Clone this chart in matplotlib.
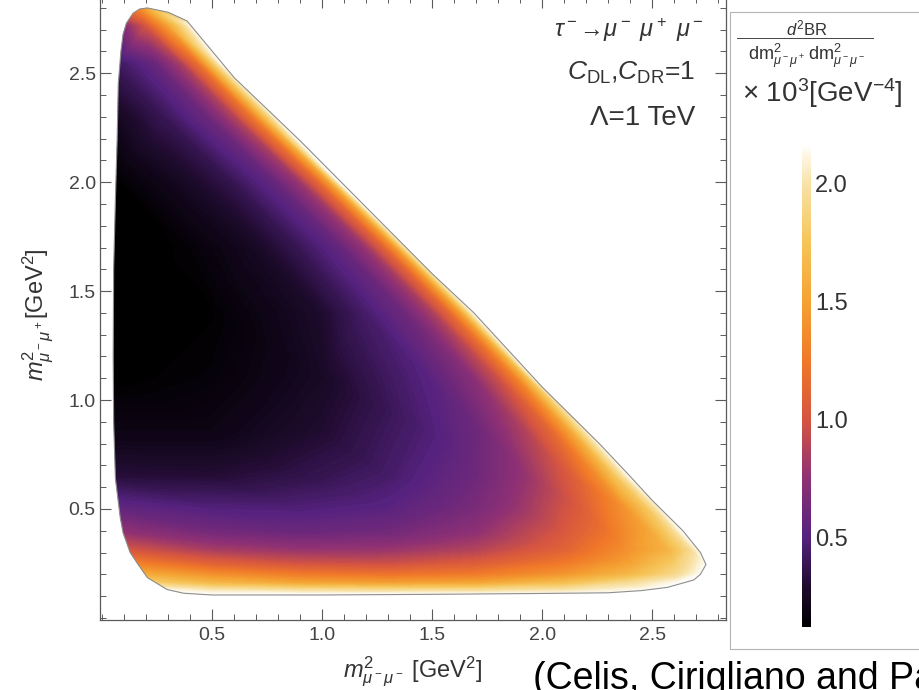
#!/usr/bin/env python
"""Dalitz-plot density for tau- -> mu- mu+ mu- with dipole operators.

Colour shows d^2BR / (dm^2_{mu-mu+} dm^2_{mu-mu-}) in units of 10^3 GeV^-4,
sampled along rows of constant m^2_{mu-mu+} and filled with tricontourf,
clipped to the outline of the plotted region.
"""
from __future__ import annotations

import matplotlib

matplotlib.use("Agg")
import matplotlib.pyplot as plt
import matplotlib.tri as mtri
import numpy as np
from matplotlib.colors import LinearSegmentedColormap, Normalize
from matplotlib.lines import Line2D
from matplotlib.patches import Polygon, Rectangle
from matplotlib.ticker import MultipleLocator

plt.rcParams["font.family"] = ["Liberation Sans", "DejaVu Sans"]
plt.rcParams["mathtext.fontset"] = "custom"
plt.rcParams["mathtext.rm"] = "Liberation Sans"
plt.rcParams["mathtext.it"] = "Liberation Sans:italic"
plt.rcParams["mathtext.bf"] = "Liberation Sans:bold"

# rows of constant m^2(mu- mu+) [GeV^2]
row_y = [0.108, 0.13, 0.16, 0.20, 0.25, 0.31, 0.39, 0.50, 0.65,
         0.85, 1.10, 1.40, 1.70, 2.00, 2.30, 2.55, 2.72, 2.79]
# m^2(mu- mu-) sample positions on each row [GeV^2], left edge to right edge
row_x = [
    [0.42, 0.50, 0.90, 1.30, 1.70, 2.10, 2.25],
    [0.295, 0.50, 0.90, 1.30, 1.70, 2.10, 2.35, 2.50],
    [0.24, 0.50, 0.90, 1.30, 1.70, 2.10, 2.40, 2.62],
    [0.195, 0.50, 0.90, 1.30, 1.70, 2.10, 2.40, 2.60, 2.72],
    [0.16, 0.50, 0.90, 1.30, 1.70, 2.10, 2.40, 2.60, 2.745],
    [0.125, 0.50, 0.90, 1.30, 1.70, 2.10, 2.375, 2.575, 2.675, 2.72],
    [0.095, 0.50, 0.90, 1.30, 1.70, 2.10, 2.30, 2.50, 2.595, 2.645],
    [0.075, 0.50, 0.90, 1.30, 1.70, 1.90, 2.185, 2.385, 2.485, 2.55],
    [0.06, 0.50, 0.90, 1.30, 1.70, 1.935, 2.135, 2.255, 2.335, 2.40],
    [0.055, 0.50, 1.00, 1.50, 1.735, 1.935, 2.055, 2.135, 2.185, 2.22],
    [0.05, 0.50, 1.00, 1.485, 1.685, 1.805, 1.885, 1.935, 1.965],
    [0.05, 0.50, 0.985, 1.185, 1.385, 1.505, 1.585, 1.635, 1.69],
    [0.055, 0.385, 0.685, 0.885, 1.085, 1.205, 1.285, 1.335, 1.39],
    [0.058, 0.385, 0.585, 0.785, 0.905, 0.985, 1.035, 1.08],
    [0.065, 0.285, 0.485, 0.605, 0.685, 0.735, 0.79],
    [0.078, 0.235, 0.355, 0.435, 0.485, 0.54],
    [0.105, 0.20, 0.30, 0.40],
    [0.17, 0.24],
]
# d^2BR / dm^2 dm^2 at those positions [10^3 GeV^-4]
row_v = [
    [2.15, 2.15, 2.15, 2.15, 2.15, 2.15, 2.15],
    [2.10, 2.00, 1.93, 1.90, 1.91, 1.98, 2.08, 2.15],
    [1.82, 1.65, 1.52, 1.48, 1.52, 1.70, 1.95, 2.15],
    [1.55, 1.38, 1.25, 1.20, 1.25, 1.42, 1.65, 1.90, 2.15],
    [1.28, 1.08, 0.98, 0.96, 1.05, 1.25, 1.50, 1.80, 2.15],
    [1.00, 0.84, 0.78, 0.79, 0.88, 1.10, 1.38, 1.62, 1.92, 2.15],
    [0.76, 0.64, 0.60, 0.63, 0.75, 1.02, 1.22, 1.55, 1.88, 2.15],
    [0.56, 0.49, 0.48, 0.52, 0.66, 0.79, 1.06, 1.42, 1.78, 2.15],
    [0.32, 0.31, 0.36, 0.44, 0.61, 0.78, 1.05, 1.37, 1.75, 2.15],
    [0.20, 0.20, 0.30, 0.48, 0.63, 0.88, 1.15, 1.52, 1.90, 2.15],
    [0.12, 0.15, 0.26, 0.51, 0.72, 0.97, 1.30, 1.68, 2.12],
    [0.10, 0.13, 0.28, 0.43, 0.62, 0.85, 1.15, 1.50, 2.15],
    [0.10, 0.14, 0.25, 0.38, 0.57, 0.80, 1.10, 1.44, 2.15],
    [0.12, 0.26, 0.37, 0.57, 0.81, 1.13, 1.49, 2.15],
    [0.24, 0.39, 0.61, 0.88, 1.24, 1.65, 2.15],
    [0.42, 0.58, 0.85, 1.20, 1.65, 2.15],
    [0.72, 1.00, 1.50, 2.10],
    [1.30, 1.70],
]

# outline of the plotted region (clockwise from the top tip)
edge_x = [0.205, 0.30, 0.386, 0.60, 0.90, 1.20, 1.50, 1.69, 2.00, 2.26,
          2.40, 2.50, 2.64, 2.72, 2.745, 2.72, 2.69, 2.57, 2.45, 2.30,
          2.00, 1.50, 1.00, 0.50, 0.37, 0.295, 0.205, 0.16, 0.127, 0.095,
          0.082, 0.06, 0.052, 0.05, 0.052, 0.06, 0.068, 0.073, 0.085, 0.095,
          0.11, 0.14, 0.17]
edge_y = [2.80, 2.78, 2.74, 2.48, 2.19, 1.885, 1.58, 1.40, 1.06, 0.80,
          0.65, 0.54, 0.40, 0.30, 0.245, 0.20, 0.174, 0.14, 0.125, 0.115,
          0.112, 0.108, 0.105, 0.105, 0.113, 0.13, 0.185, 0.25, 0.30, 0.39,
          0.46, 0.64, 0.90, 1.20, 1.60, 1.92, 2.20, 2.45, 2.60, 2.68,
          2.73, 2.775, 2.795]

cbar_ticks = [0.5, 1.0, 1.5, 2.0]
axis_ticks = [0.5, 1.0, 1.5, 2.0, 2.5]

VMIN, VMAX = 0.12, 2.17

# black -> violet -> red -> orange -> pale yellow -> white
cmap = LinearSegmentedColormap.from_list("sunset", [
    (0.000, "#000000"),
    (0.080, "#1d0a2c"),
    (0.185, "#55227f"),
    (0.307, "#8e3074"),
    (0.430, "#d55540"),
    (0.550, "#f07828"),
    (0.673, "#f4a232"),
    (0.795, "#f6c458"),
    (0.917, "#f8e2a6"),
    (1.000, "#ffffff"),
])
cmap.set_over("#ffffff")
cmap.set_under("#000000")
norm = Normalize(VMIN, VMAX)


def build_mesh():
    """Flatten the rows and stitch each pair of neighbouring rows into a
    strip of triangles, pairing points by their relative place in the row."""
    rows = [(row_y[0] - 0.06, row_x[0], row_v[0])]
    rows += list(zip(row_y, row_x, row_v))
    rows.append((row_y[-1] + 0.06, row_x[-1], row_v[-1]))

    xs, ys, vs, idx, rel = [], [], [], [], []
    for y, xr, vr in rows:
        x0, x1 = xr[0], xr[-1]
        width = x1 - x0
        # pad each row a little past the outline so the fill covers it
        px = [x0 - 0.06] + xr + [x1 + 0.06]
        pr = [-0.02] + [(p - x0) / width for p in xr] + [1.02]
        start = len(xs)
        xs.extend(px)
        ys.extend([y] * len(px))
        vs.extend([vr[0]] + vr + [vr[-1]])
        idx.append(list(range(start, start + len(px))))
        rel.append(pr)

    triangles = []
    for a, b, ra, rb in zip(idx[:-1], idx[1:], rel[:-1], rel[1:]):
        i = j = 0
        while i < len(a) - 1 or j < len(b) - 1:
            if j == len(b) - 1 or (i < len(a) - 1 and ra[i + 1] <= rb[j + 1]):
                triangles.append((a[i], a[i + 1], b[j]))
                i += 1
            else:
                triangles.append((a[i], b[j + 1], b[j]))
                j += 1
    tri = mtri.Triangulation(np.array(xs), np.array(ys), triangles=triangles)
    return tri, np.array(vs)


def main() -> None:
    fig = plt.figure(figsize=(9.2, 6.9), dpi=100)
    ax = fig.add_axes([0.1087, 0.1014, 0.6804, 0.9029])

    tri, vs = build_mesh()
    levels = np.linspace(VMIN, VMAX, 161)
    cs = ax.tricontourf(tri, vs, levels=levels, cmap=cmap, norm=norm,
                        extend="both", antialiased=False, zorder=1)

    outline = Polygon(np.column_stack([edge_x, edge_y]), closed=True,
                      facecolor="none", edgecolor="#8e8e8e", lw=0.8, zorder=3)
    ax.add_patch(outline)
    cs.set_clip_path(outline)

    ax.set_xlim(-0.01, 2.836)
    ax.set_ylim(-0.01, 2.85)
    ax.set_xticks(axis_ticks)
    ax.set_yticks(axis_ticks)
    ax.set_xticklabels([f"{t:.1f}" for t in axis_ticks])
    ax.set_yticklabels([f"{t:.1f}" for t in axis_ticks])
    ax.xaxis.set_minor_locator(MultipleLocator(0.1))
    ax.yaxis.set_minor_locator(MultipleLocator(0.1))
    ax.tick_params(which="both", direction="in", top=True, right=True,
                   colors="#5a5a5a", labelcolor="#444444", labelsize=14)
    ax.tick_params(which="major", length=8, width=0.8)
    ax.tick_params(which="minor", length=4.5, width=0.7)
    ax.tick_params(axis="x", pad=5)
    ax.tick_params(axis="y", pad=3)
    for sp in ax.spines.values():
        sp.set_color("#5a5a5a")
        sp.set_linewidth(0.9)

    ax.set_xlabel(r"$m^2_{\mu^-\mu^-}$ [GeV$^2$]", fontsize=17, color="#333333")
    ax.set_ylabel(r"$m^2_{\mu^-\mu^+}$[GeV$^2$]", fontsize=17, color="#333333")
    ax.xaxis.set_label_coords(0.5, -0.056)
    ax.yaxis.set_label_coords(-0.072, 0.49)

    ax.text(2.735, 2.665, r"$\tau^-$" + "\u2192" + r"$\mu^-$ $\mu^+$ $\mu^-$",
            ha="right", va="baseline", fontsize=17, color="#333333")
    ax.text(2.695, 2.468, r"$C_{\mathrm{DL}}$,$C_{\mathrm{DR}}$=1",
            ha="right", va="baseline", fontsize=19, color="#333333")
    ax.text(2.695, 2.261, "\u039b=1 TeV",
            ha="right", va="baseline", fontsize=20, color="#333333")

    # legend panel with the colour bar
    fig.patches.append(Rectangle((0.7935, 0.0594), 0.212, 0.923,
                                 transform=fig.transFigure, fill=False,
                                 edgecolor="#b4b4b4", lw=0.8))
    fig.text(0.877, 0.949, r"$d^2$BR", ha="center", va="baseline",
             fontsize=12, color="#333333")
    fig.lines.append(Line2D([0.801, 0.949], [0.9449, 0.9449],
                            transform=fig.transFigure, color="#444444", lw=0.7))
    fig.text(0.877, 0.913,
             r"$\mathrm{dm}^2_{\mu^-\mu^+}\,\mathrm{dm}^2_{\mu^-\mu^-}$",
             ha="center", va="baseline", fontsize=13, color="#333333")
    fig.text(0.8065, 0.852, r"$\times$ 10$^3$[GeV$^{-4}$]", ha="left",
             va="baseline", fontsize=20, color="#333333")

    cax = fig.add_axes([0.8717, 0.0913, 0.0098, 0.7014])
    sm = plt.cm.ScalarMappable(norm=norm, cmap=cmap)
    cb = fig.colorbar(sm, cax=cax, ticks=cbar_ticks)
    cb.outline.set_visible(False)
    cb.ax.set_yticklabels([f"{t:.1f}" for t in cbar_ticks])
    cb.ax.tick_params(length=0, pad=3, labelsize=17, labelcolor="#333333")

    fig.text(0.579, 0.002, "(Celis, Cirigliano and Passemar)",
             ha="left", va="baseline", fontsize=27, color="black")

    fig.savefig("out.png", dpi=100)


if __name__ == "__main__":
    main()
